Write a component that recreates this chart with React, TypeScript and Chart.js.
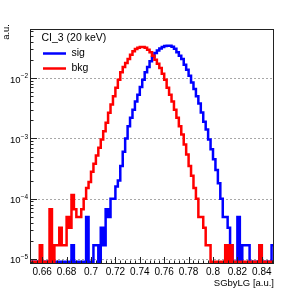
import React, { useEffect, useRef } from "react";
import { Chart, registerables } from "chart.js";

Chart.register(...registerables);

// ---- data (histograms: 100 bins of 0.002 from 0.65 to 0.85) ----
const X_MIN = 0.65;
const X_MAX = 0.85;
const Y_MIN = 8.27e-6;
const Y_MAX = 0.0653;
const ZERO_FLOOR = 9e-6; // empty bins are drawn at the bottom of the log frame

const SIG: number[] = [
  0, 0, 0, 0, 0, 0, 0, 0, 0, 0,
  0, 0, 0, 0, 0, 0, 0, 1.7e-5, 0, 0,
  0, 0, 0, 5.0e-5, 0, 0, 1.7e-5, 1.7e-5, 0, 3.3e-5,
  1.7e-5, 6.7e-5, 5.0e-5, 1.0e-4, 1.0e-4, 1.6e-4, 2.0e-4, 3.5e-4, 6.0e-4, 1.0e-3,
  1.6e-3, 2.2e-3, 3.0e-3, 4.1e-3, 5.3e-3, 7.1e-3, 9.4e-3, 0.0125, 0.0153, 0.019,
  0.0224, 0.0261, 0.0288, 0.031, 0.0327, 0.034, 0.0344, 0.0344, 0.033, 0.0307,
  0.027, 0.0236, 0.0207, 0.0167, 0.0138, 0.011, 0.0085, 0.0066, 0.005, 0.0038,
  0.0027, 0.0019, 0.0014, 9.6e-4, 6.6e-4, 4.5e-4, 3.0e-4, 1.8e-4, 1.0e-4, 5.0e-5,
  5.0e-5, 3.3e-5, 1.7e-5, 0, 0, 5.0e-5, 0, 1.7e-5, 1.7e-5, 1.7e-5,
  0, 0, 0, 0, 1.7e-5, 0, 0, 0, 0, 1.7e-5,
];

const BKG: number[] = [
  0, 0, 0, 0, 1.7e-5, 0, 0, 0, 6.7e-5, 0,
  1.7e-5, 1.7e-5, 3.3e-5, 1.7e-5, 1.7e-5, 5.0e-5, 3.3e-5, 1.15e-4, 6.7e-5, 5.0e-5,
  5.0e-5, 6.7e-5, 1.0e-4, 1.5e-4, 1.9e-4, 2.8e-4, 3.8e-4, 5.2e-4, 7.0e-4, 9.6e-4,
  1.32e-3, 1.82e-3, 2.66e-3, 3.65e-3, 5.0e-3, 6.9e-3, 9.4e-3, 0.0125, 0.0153, 0.0178,
  0.0207, 0.0245, 0.0278, 0.0303, 0.0318, 0.0327, 0.0327, 0.0318, 0.0296, 0.0268,
  0.0236, 0.0202, 0.0173, 0.0147, 0.0118, 0.0094, 0.0069, 0.0053, 0.0041, 0.003,
  0.0022, 0.0016, 1.16e-3, 7.9e-4, 5.4e-4, 3.5e-4, 2.4e-4, 1.5e-4, 1.0e-4, 5.0e-5,
  5.0e-5, 3.3e-5, 1.7e-5, 1.7e-5, 0, 0, 0, 0, 0, 0,
  1.7e-5, 0, 1.7e-5, 0, 0, 0, 0, 0, 0, 0,
  0, 0, 0, 0, 1.7e-5, 0, 0, 0, 0, 0,
];

const X_TICK_VALUES = [0.66, 0.68, 0.7, 0.72, 0.74, 0.76, 0.78, 0.8, 0.82, 0.84];
const X_TICK_LABELS = ["0.66", "0.68", "0.7", "0.72", "0.74", "0.76", "0.78", "0.8", "0.82", "0.84"];
const X_MINOR_STEP = 0.004;
const Y_DECADES = [-5, -4, -3, -2];
const SERIES_NAMES = ["sig", "bkg"];
const SERIES_COLORS = ["#0000ff", "#ff0000"];
const LEGEND_HEADER = "CI_3 (20 keV)";
const X_TITLE = "SGbyLG [a.u.]";
const Y_TITLE = "a.u.";

const FONT = "'Liberation Sans', Arial, Helvetica, sans-serif";

function toSteps(values: number[]) {
  const n = values.length;
  const w = (X_MAX - X_MIN) / n;
  const pts: { x: number; y: number }[] = [];
  for (let i = 0; i < n; i++) {
    pts.push({ x: X_MIN + i * w, y: values[i] > 0 ? values[i] : ZERO_FLOOR });
  }
  pts.push({ x: X_MAX, y: values[n - 1] > 0 ? values[n - 1] : ZERO_FLOOR });
  return pts;
}

const rootPlugin = {
  id: "rootStyle",
  beforeDatasetsDraw(chart: any) {
    const { ctx, chartArea: a, scales } = chart;
    const y = scales.y;
    ctx.save();
    ctx.strokeStyle = "#a8a8a8";
    ctx.lineWidth = 1;
    ctx.setLineDash([2, 2]);
    for (const d of Y_DECADES) {
      const py = Math.round(y.getPixelForValue(Math.pow(10, d))) + 0.5;
      ctx.beginPath();
      ctx.moveTo(a.left, py);
      ctx.lineTo(a.right, py);
      ctx.stroke();
    }
    ctx.restore();
  },
  afterDatasetsDraw(chart: any) {
    const { ctx, chartArea: a, scales } = chart;
    const x = scales.x;
    const y = scales.y;
    ctx.save();
    ctx.setLineDash([]);
    // frame
    ctx.strokeStyle = "#222";
    ctx.lineWidth = 1;
    ctx.strokeRect(a.left + 0.5, a.top + 0.5, a.right - a.left - 1, a.bottom - a.top - 1);

    // x ticks (inside)
    ctx.beginPath();
    for (let k = 0; k < 80; k++) {
      const v = 0.64 + k * X_MINOR_STEP;
      if (v < X_MIN - 1e-9 || v > X_MAX + 1e-9) continue;
      const px = Math.round(x.getPixelForValue(v)) + 0.5;
      const isMajor = X_TICK_VALUES.some((t) => Math.abs(t - v) < 1e-6);
      const len = isMajor ? 7 : 3.5;
      ctx.moveTo(px, a.bottom);
      ctx.lineTo(px, a.bottom - len);
    }
    // y ticks (inside)
    for (let d = -6; d <= -1; d++) {
      for (let m = 1; m <= 9; m++) {
        const v = m * Math.pow(10, d);
        if (v < Y_MIN || v > Y_MAX) continue;
        const py = Math.round(y.getPixelForValue(v)) + 0.5;
        const len = m === 1 ? 7 : 3.5;
        ctx.moveTo(a.left, py);
        ctx.lineTo(a.left + len, py);
      }
    }
    ctx.stroke();

    // x labels
    ctx.fillStyle = "#000";
    ctx.font = `10px ${FONT}`;
    ctx.textAlign = "center";
    ctx.textBaseline = "alphabetic";
    X_TICK_VALUES.forEach((v, i) => {
      ctx.fillText(X_TICK_LABELS[i], x.getPixelForValue(v), a.bottom + 11);
    });

    // y labels 10^d
    for (const d of Y_DECADES) {
      const py = y.getPixelForValue(Math.pow(10, d));
      ctx.font = `9.5px ${FONT}`;
      ctx.textAlign = "right";
      ctx.fillText("10", 20.5, py + 4.4);
      ctx.font = `6.5px ${FONT}`;
      ctx.textAlign = "left";
      ctx.fillText("\u2212" + String(-d), 20.8, py + 0.2);
    }

    // axis titles
    ctx.font = `9.5px ${FONT}`;
    ctx.textAlign = "right";
    ctx.fillText(X_TITLE, a.right, a.bottom + 22);
    ctx.save();
    ctx.translate(8.5, a.top - 5);
    ctx.rotate(-Math.PI / 2);
    ctx.textAlign = "right";
    ctx.fillText(Y_TITLE, 0, 0);
    ctx.restore();

    // legend
    ctx.font = `10.5px ${FONT}`;
    ctx.textAlign = "left";
    ctx.textBaseline = "middle";
    ctx.fillText(LEGEND_HEADER, 41.5, 38.5);
    SERIES_NAMES.forEach((name, i) => {
      const ly = 53.5 + i * 15;
      ctx.strokeStyle = SERIES_COLORS[i];
      ctx.lineWidth = 2.5;
      ctx.beginPath();
      ctx.moveTo(43, ly);
      ctx.lineTo(66, ly);
      ctx.stroke();
      ctx.fillStyle = "#000";
      ctx.fillText(name, 71.5, ly);
    });
    ctx.restore();
  },
};

export default function App() {
  const ref = useRef<HTMLCanvasElement>(null);
  useEffect(() => {
    const canvas = ref.current;
    if (!canvas) return;
    const chart = new Chart(canvas, {
      type: "line",
      data: {
        datasets: [
          {
            label: SERIES_NAMES[0],
            data: toSteps(SIG),
            borderColor: SERIES_COLORS[0],
            borderWidth: 2.5,
            pointRadius: 0,
            fill: false,
            stepped: true,
            order: 1,
          },
          {
            label: SERIES_NAMES[1],
            data: toSteps(BKG),
            borderColor: SERIES_COLORS[1],
            borderWidth: 2.5,
            pointRadius: 0,
            fill: false,
            stepped: true,
            order: 0,
          },
        ],
      },
      options: {
        responsive: false,
        animation: false,
        devicePixelRatio: 1,
        events: [],
        layout: { padding: { left: 30, top: 29, right: 31, bottom: 30 } },
        scales: {
          x: { type: "linear", min: X_MIN, max: X_MAX, display: false },
          y: { type: "logarithmic", min: Y_MIN, max: Y_MAX, display: false },
        },
        plugins: { legend: { display: false }, tooltip: { enabled: false } },
      },
      plugins: [rootPlugin],
    } as any);
    return () => chart.destroy();
  }, []);
  return (
    <div style={{ position: "absolute", left: 0, top: 0, width: 305, height: 294, background: "#fff" }}>
      <canvas ref={ref} width={305} height={294} style={{ display: "block", width: 305, height: 294 }} />
    </div>
  );
}
